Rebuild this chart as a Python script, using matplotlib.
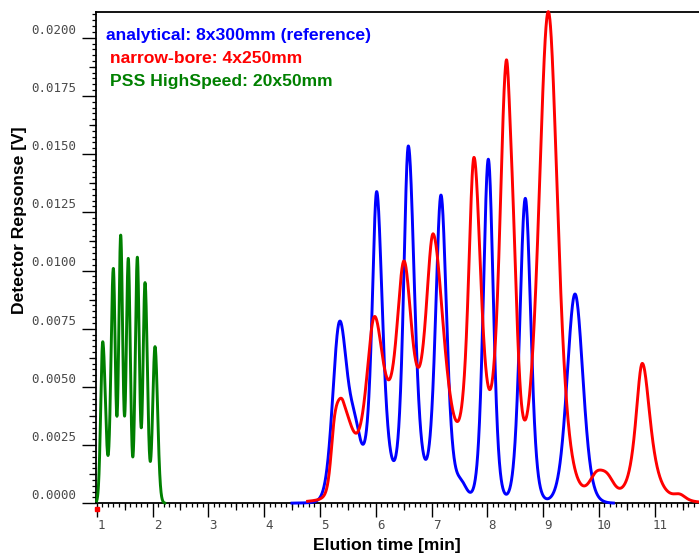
import numpy as np
import matplotlib
matplotlib.use("Agg")
import matplotlib.pyplot as plt
from matplotlib.ticker import FixedLocator, NullFormatter
import matplotlib.transforms as mtransforms

# ---------------- data ----------------
# axis ticks
x_ticks = [1, 2, 3, 4, 5, 6, 7, 8, 9, 10, 11]
y_ticks = [0.0, 0.0025, 0.0050, 0.0075, 0.0100, 0.0125, 0.0150, 0.0175, 0.0200]
y_tick_labels = ["0.0000", "0.0025", "0.0050", "0.0075", "0.0100",
                 "0.0125", "0.0150", "0.0175", "0.0200"]

# analytical 8x300mm (reference) : peak apex time [min], apex response [V],
# left / right half widths [min], peak shape factor
blue_time = [5.348, 5.62, 6.018, 6.585, 7.17, 7.54, 8.018, 8.681, 9.572]
blue_resp = [0.0078, 0.0039, 0.01339, 0.01535, 0.01324, 0.0010, 0.01478, 0.0131, 0.00899]
blue_wl = [0.14, 0.16, 0.10, 0.10, 0.115, 0.12, 0.105, 0.115, 0.167]
blue_wr = [0.15, 0.15, 0.125, 0.13, 0.12, 0.12, 0.105, 0.115, 0.167]
blue_m = [10, 2, 2, 3, 3, 4, 5, 5, 6]
blue_span = [4.5, 10.26]

# narrow-bore 4x250mm
red_time = [5.27, 5.42, 5.975, 6.507, 7.033, 7.762, 8.335, 8.47, 9.093, 9.95, 10.15, 10.778, 11.45]
red_resp = [0.00387, 0.00436, 0.00802, 0.01041, 0.01157, 0.01486, 0.01897, 0.0125,
            0.02112, 0.00136, 0.00129, 0.00601, 0.0004]
red_wl = [0.08, 0.12, 0.18, 0.17, 0.17, 0.12, 0.14, 0.08, 0.20, 0.15, 0.15, 0.14, 0.12]
red_wr = [0.10, 0.20, 0.21, 0.18, 0.24, 0.15, 0.11, 0.10, 0.20, 0.15, 0.15, 0.17, 0.12]
red_m = [10, 3, 1.5, 1.5, 1.5, 2, 2, 3, 3, 4, 4, 1.6, 4]
red_span = [4.78, 11.79]

# PSS HighSpeed 20x50mm
green_time = [1.108, 1.298, 1.430, 1.566, 1.728, 1.866, 2.045]
green_resp = [0.00694, 0.01009, 0.01152, 0.01052, 0.01057, 0.00948, 0.00673]
green_wl = [0.042, 0.050, 0.041, 0.042, 0.043, 0.042, 0.049]
green_wr = [0.058, 0.041, 0.042, 0.043, 0.042, 0.050, 0.054]
green_m = [20, 20, 20, 20, 20, 20, 20]
green_span = [1.0, 2.22]

# injection marker
marker_t = [1.0]
marker_v = [-0.00025]

legend_texts = ["analytical: 8x300mm (reference)", "narrow-bore: 4x250mm", "PSS HighSpeed: 20x50mm"]
colors = ["#0000ff", "#ff0000", "#008000"]


def peak_shape(t, t0, wl, wr, m):
    x = np.asarray(t, dtype=float) - t0
    w = np.where(x < 0, wl, wr)
    c = 2.0 ** (1.0 / m) - 1.0
    return (1.0 + c * (x / w) ** 2) ** (-m)


def build_trace(time, resp, wl, wr, m, span):
    n = len(time)
    A = np.array([[peak_shape(time[i], time[j], wl[j], wr[j], m[j]) for j in range(n)]
                  for i in range(n)])
    h = np.clip(np.linalg.solve(A, np.asarray(resp)), 0, None)
    t = np.linspace(span[0], span[1], 2000)
    y = np.zeros_like(t)
    for j in range(n):
        y += h[j] * peak_shape(t, time[j], wl[j], wr[j], m[j])
    return t, y


W, H = 699, 553
fig = plt.figure(figsize=(W / 100, H / 100), dpi=100)
ax_l, ax_r, ax_t, ax_b = 96, 699, 12.3, 503.3
ax = fig.add_axes([ax_l / W, 1 - ax_b / H, (ax_r - ax_l) / W, (ax_b - ax_t) / H])

px_per_min = 55.8
x0_px = 96.7
ax.set_xlim(1 + (ax_l - x0_px) / px_per_min, 1 + (ax_r - x0_px) / px_per_min)
ymax = (ax_b - ax_t) / 465.6 * 0.02
ax.set_ylim(0, ymax)

for (tt, rr, wl, wr, mm, sp), col in zip(
        [(blue_time, blue_resp, blue_wl, blue_wr, blue_m, blue_span),
         (red_time, red_resp, red_wl, red_wr, red_m, red_span),
         (green_time, green_resp, green_wl, green_wr, green_m, green_span)],
        colors):
    t, y = build_trace(tt, rr, wl, wr, mm, sp)
    ax.plot(t, y, color=col, lw=2.1, clip_on=False, solid_joinstyle="round", zorder=3)

ax.plot(marker_t, marker_v, "s", color="#ff0000", ms=3.5, clip_on=False, zorder=4)

# spines
for s in ["left", "bottom", "top"]:
    ax.spines[s].set_linewidth(1.3)
    ax.spines[s].set_color("black")
ax.spines["right"].set_visible(False)

# ticks
ax.xaxis.set_major_locator(FixedLocator(x_ticks))
ax.xaxis.set_minor_locator(FixedLocator([x / 10 for x in range(10, 118)]))
ax.yaxis.set_major_locator(FixedLocator(y_ticks))
ax.set_yticklabels(y_tick_labels)
ax.yaxis.set_minor_locator(FixedLocator([k * 0.00025 for k in range(0, 85)]))
ax.tick_params(axis="both", which="major", direction="out", length=10, width=1.0,
               color="black", labelsize=9, labelcolor="#4a4a4a", pad=4)
ax.tick_params(axis="both", which="minor", direction="out", length=3.2, width=0.9, color="black")
ax.tick_params(axis="y", which="major", pad=4)
ax.tick_params(axis="x", which="major", pad=1)
ax.tick_params(top=False, right=False, which="both")

# medium ticks at half intervals
secx = ax.secondary_xaxis("bottom")
secx.xaxis.set_major_locator(FixedLocator([x + 0.5 for x in range(1, 12)]))
secx.xaxis.set_major_formatter(NullFormatter())
secx.tick_params(direction="out", length=5, width=0.9, color="black")
secx.spines["bottom"].set_visible(False)
secy = ax.secondary_yaxis("left")
secy.yaxis.set_major_locator(FixedLocator([v + 0.00125 for v in y_ticks]))
secy.yaxis.set_major_formatter(NullFormatter())
secy.tick_params(direction="out", length=5, width=0.9, color="black")
secy.spines["left"].set_visible(False)

for lab in ax.get_xticklabels() + ax.get_yticklabels():
    lab.set_fontfamily("DejaVu Sans Mono")

# shift tick labels like in the reference
dx = mtransforms.ScaledTranslation(5 / 100, 0, fig.dpi_scale_trans)
for lab in ax.get_xticklabels():
    lab.set_transform(lab.get_transform() + dx)
dy = mtransforms.ScaledTranslation(0, 9 / 100, fig.dpi_scale_trans)
for lab in ax.get_yticklabels():
    lab.set_transform(lab.get_transform() + dy)

# axis titles
fig.text(387 / W, 1 - 550 / H, "Elution time [min]", ha="center", va="baseline",
         fontsize=12.6, fontweight="bold", family="Liberation Sans")
fig.text(20 / W, 1 - 220.5 / H, "Detector Repsonse [V]", ha="center", va="center",
         rotation=90, fontsize=12.6, fontweight="bold", family="Liberation Sans")

# legend texts
for txt, col, xx, yy in zip(legend_texts, colors, [106, 110, 110], [40, 62.7, 86]):
    fig.text(xx / W, 1 - yy / H, txt, color=col, ha="left", va="baseline",
             fontsize=12.6, fontweight="bold", family="Liberation Sans")

fig.savefig("out.png", dpi=100)
